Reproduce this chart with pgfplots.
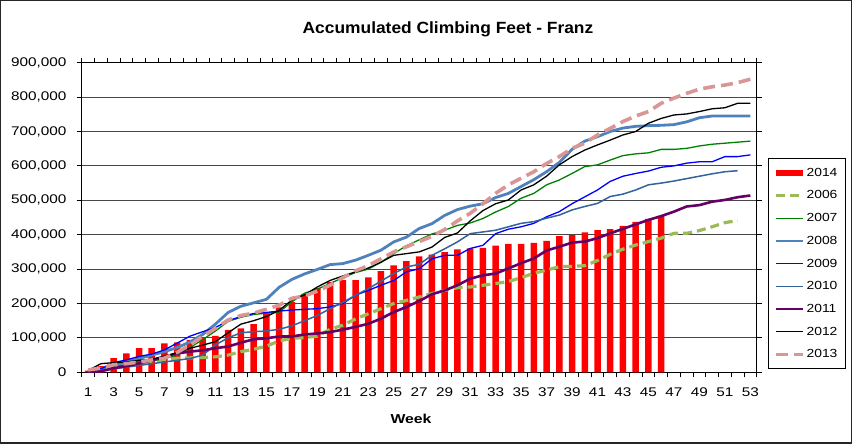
\documentclass[border=0pt]{standalone}
\usepackage{fontspec}
\setmainfont{Liberation Sans}
\newfontfamily\tickfont[FakeStretch=1.22]{Liberation Sans}
\newfontfamily\legfont[FakeStretch=1.18]{Liberation Sans}
\newfontfamily\titlefont[FakeStretch=1.07]{Liberation Sans}
\usepackage{pgfplots}
\usepackage{pgfplotstable}
\pgfplotsset{compat=1.18}
\definecolor{c06}{HTML}{9BBB59}
\definecolor{c07}{HTML}{008000}
\definecolor{c08}{HTML}{4F81BD}
\definecolor{c09}{HTML}{0000FF}
\definecolor{c10}{HTML}{33639A}
\definecolor{c11}{HTML}{660066}
\definecolor{c12}{HTML}{000000}
\definecolor{c13}{HTML}{D99694}
\pgfplotstableread{
w s14 s06 s07 s08 s09 s10 s11 s12 s13
1 5000 2000 4000 3000 2000 2000 0 5000 7000
2 18000 5000 10000 10000 10000 5000 3000 25000 12000
3 41000 12000 18000 20000 28000 10000 12000 28000 22000
4 55000 18000 22000 30000 36000 15000 18000 30000 25000
5 70000 25000 28000 40000 46000 20000 26000 35000 30000
6 70000 32000 33000 50000 53000 25000 35000 38000 36000
7 84000 37000 40000 60000 65000 30000 45000 47000 41000
8 87000 41000 50000 72000 85000 35000 55000 57000 58000
9 94000 42000 72000 88000 105000 40000 60000 70000 79000
10 101000 43000 95000 110000 118000 50000 64000 79000 105000
11 106000 45000 120000 140000 130000 80000 70000 89000 128000
12 123000 50000 148000 174000 150000 100000 75000 115000 152000
13 128000 60000 160000 192000 162000 115000 86000 140000 165000
14 140000 67000 168000 202000 171000 118000 96000 150000 172000
15 171000 76000 172000 212000 174000 120000 99000 162000 183000
16 189000 91000 175000 247000 178000 125000 104000 180000 195000
17 205000 99000 205000 270000 181000 135000 104000 210000 215000
18 228000 101000 230000 286000 183000 150000 110000 225000 222000
19 245000 105000 242000 299000 185000 165000 113000 248000 236000
20 263000 125000 258000 313000 190000 185000 117000 267000 253000
21 268000 137000 275000 316000 200000 203000 124000 280000 275000
22 268000 155000 290000 326000 224000 224000 132000 292000 295000
23 276000 170000 300000 340000 238000 243000 141000 303000 310000
24 294000 185000 320000 355000 253000 265000 156000 320000 330000
25 311000 200000 345000 379000 267000 287000 175000 340000 350000
26 323000 209000 368000 393000 292000 306000 190000 345000 365000
27 337000 219000 385000 418000 301000 314000 207000 350000 380000
28 342000 229000 402000 432000 330000 340000 227000 364000 395000
29 349000 238000 413000 456000 340000 359000 238000 392000 415000
30 357000 246000 427000 473000 340000 379000 253000 405000 440000
31 360000 248000 434000 483000 360000 403000 272000 440000 462000
32 362000 253000 447000 490000 369000 408000 282000 470000 490000
33 368000 258000 466000 508000 403000 413000 287000 490000 520000
34 373000 264000 482000 520000 416000 423000 302000 501000 545000
35 373000 275000 506000 540000 423000 433000 317000 530000 564000
36 376000 288000 520000 560000 433000 438000 331000 545000 583000
37 382000 297000 545000 583000 452000 448000 354000 570000 607000
38 396000 307000 559000 610000 467000 457000 365000 603000 627000
39 399000 308000 578000 648000 490000 472000 377000 627000 651000
40 407000 310000 598000 672000 510000 482000 380000 646000 666000
41 413000 325000 603000 685000 530000 491000 390000 661000 690000
42 416000 343000 617000 700000 555000 511000 404000 675000 709000
43 426000 358000 630000 710000 570000 518000 417000 690000 729000
44 437000 370000 635000 715000 578000 530000 430000 700000 745000
45 446000 380000 638000 717000 585000 545000 443000 724000 758000
46 455000 390000 648000 718000 596000 550000 454000 738000 782000
47 nan 404000 648000 720000 600000 556000 467000 748000 797000
48 nan 404000 651000 728000 608000 563000 482000 751000 811000
49 nan 412000 658000 740000 612000 570000 486000 758000 823000
50 nan 423000 663000 745000 612000 577000 496000 766000 830000
51 nan 435000 666000 745000 627000 583000 501000 769000 835000
52 nan 441000 669000 745000 627000 586000 509000 782000 842000
53 nan nan 672000 745000 632000 nan 514000 782000 852000
}\climb
\begin{document}
\begin{tikzpicture}[x=1bp,y=1bp]
\begin{axis}[
  name=ax, at={(0,0)}, anchor=south west, scale only axis,
  width=675bp, height=309.6bp,
  xmin=0.5, xmax=53.5, ymin=0, ymax=900000,
  xtick={1,3,...,53}, minor xtick={0.5,1.5,...,53.5},
  ytick={0,100000,...,900000}, minor ytick={0,100000,...,900000},
  major tick length=0pt, minor tick length=5bp, tick align=outside,
  minor tick style={black, line width=0.8bp},
  ymajorgrids, grid style={black!72, line width=1.1bp},
  axis line style={black, line width=1bp},
  scaled y ticks=false,
  /pgf/number format/assume math mode=true,
  yticklabel style={font=\tickfont\fontsize{12.6}{15}\selectfont, xshift=-11.8bp,
    /pgf/number format/.cd, fixed, 1000 sep={,}},
  xticklabel style={font=\tickfont\fontsize{12.6}{15}\selectfont, yshift=-12bp},
  no markers,
  every axis plot/.append style={line join=round,
    legend image code/.code={\draw[mark repeat=2,mark phase=2] plot coordinates {(0bp,0bp) (13.5bp,0bp) (27bp,0bp)};}},
  legend cell align=left,
  legend style={at={(1.0168,0.692)}, anchor=north west, draw=black, line width=0.9bp,
    font=\legfont\fontsize{11.8}{14}\selectfont, row sep=10bp,
    inner xsep=6bp, inner ysep=8bp, nodes={inner sep=1.5bp}},
]
\addplot[ybar, bar width=6.5bp, fill=red, draw=none,
  legend image code/.code={\fill[red] (0bp,-3bp) rectangle (27bp,3bp);}]
  table[x=w, y=s14] {\climb};
\addplot[c06, line width=3.2bp, dash pattern=on 9bp off 5bp] table[x=w, y=s06] {\climb};
\addplot[c07, line width=1.3bp] table[x=w, y=s07] {\climb};
\addplot[c08, line width=2.8bp] table[x=w, y=s08] {\climb};
\addplot[c09, line width=1.3bp] table[x=w, y=s09] {\climb};
\addplot[c10, line width=1.5bp] table[x=w, y=s10] {\climb};
\addplot[c11, line width=2.6bp] table[x=w, y=s11] {\climb};
\addplot[c12, line width=1.3bp] table[x=w, y=s12] {\climb};
\addplot[c13, line width=3.6bp, dash pattern=on 12bp off 6bp] table[x=w, y=s13] {\climb};
\legend{2014,2006,2007,2008,2009,2010,2011,2012,2013}
\end{axis}
\begin{scope}[shift={(ax.south west)}]
\draw[black!85, line width=1.5bp] (-80.95,-70.95) rectangle (769.55,371.55);
\node[anchor=base, font=\titlefont\bfseries\fontsize{16.3}{19}\selectfont] at (366.3,339) {Accumulated Climbing Feet - Franz};
\node[font=\tickfont\bfseries\fontsize{13}{15}\selectfont] at (329.3,-46.5) {Week};
\end{scope}
\end{tikzpicture}
\end{document}
